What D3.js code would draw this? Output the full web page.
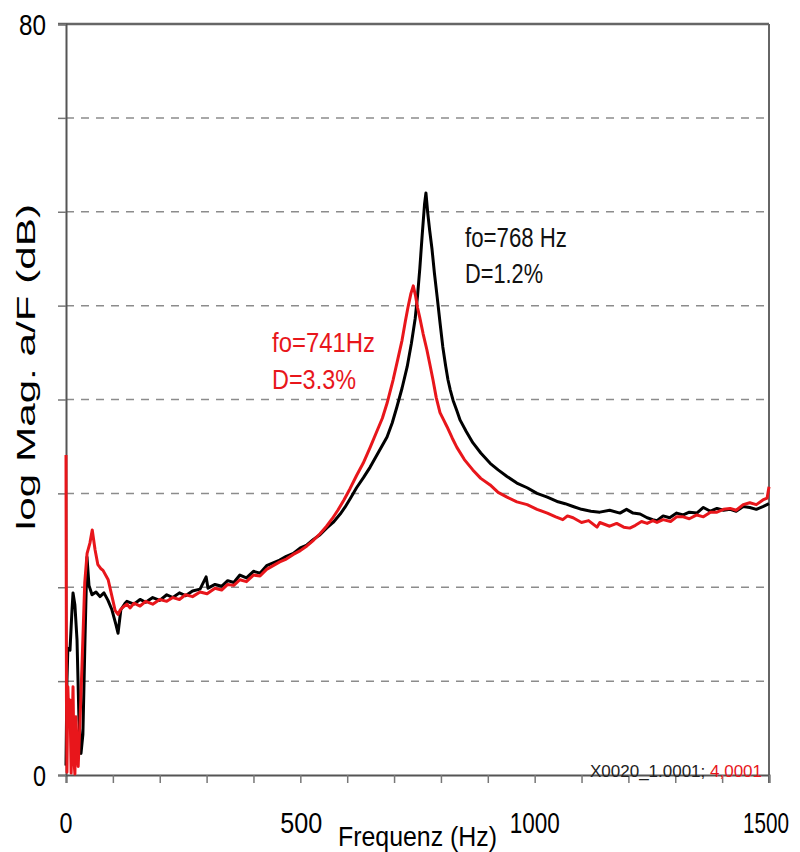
<!DOCTYPE html>
<html>
  <head>
    <meta charset="utf-8" />
    <title>Frequenzgang</title>
    <script src="https://d3js.org/d3.v7.min.js"></script>
    <style>
        body {
            margin: 0;
            background: #fff;
        }
        text {
            font-family: "Liberation Sans", Arial, sans-serif;
        }
    </style>
  </head>
  <body>
    <svg id="chart"></svg>

    <script>
        // black trace: X0020_1.0001 (fo=768 Hz)
        var freqBlack = [0, 2, 4, 8.5, 12.8, 15, 19, 23.5, 27.7, 32, 36, 40.5, 44.8, 49, 55.5, 64, 72.5, 81, 89.6, 98, 106.7, 111, 117, 126,
            130, 145, 158, 170, 185, 200, 215, 228, 242, 255, 270, 286, 299, 303, 318, 332, 345, 358, 371, 385, 400, 414, 428, 442, 456, 470,
            485, 500, 514, 528, 542, 556, 570, 585, 595, 606, 620, 635, 649, 667, 685, 696, 706, 717, 728, 737, 745, 750, 755, 760, 765, 768,
            772, 776, 781, 786, 792, 798, 804, 810, 815, 820, 826, 834, 841, 854, 868, 885, 905, 922, 941, 962, 984, 1005, 1027, 1050, 1065,
            1082, 1100, 1120, 1139, 1160, 1182, 1196, 1210, 1225, 1240, 1252, 1261, 1274, 1288, 1303, 1317, 1330, 1346, 1360, 1375, 1389,
            1403, 1417, 1430, 1445, 1459, 1473, 1487, 1500];
        var dbBlack = [1.0, 10, 13.5, 13.3, 17.6, 19.4, 18.1, 14.4, 5.9, 2.3, 4.3, 14.4, 23.2, 20.2, 19.2, 19.5, 19.0, 19.4, 18.6, 17.6, 16.0, 15.1, 17.6, 18.3,
            18.5, 18.2, 18.7, 18.4, 18.9, 18.6, 19.2, 18.9, 19.4, 19.1, 19.6, 19.8, 21.1, 19.9, 20.3, 20.1, 20.7, 20.5, 21.3, 21.0, 21.7, 21.5, 22.3, 22.6, 22.9, 23.3,
            23.6, 24.2, 24.5, 25.1, 25.6, 26.3, 26.9, 27.8, 28.5, 29.4, 30.6, 31.7, 32.8, 34.4, 36.0, 37.5, 39.2, 41.2, 43.5, 46.0, 48.6, 51.0, 54.0, 57.5, 60.8, 62.0,
            59.8, 58.0, 56.0, 53.5, 50.9, 48.2, 45.6, 43.6, 42.1, 41.0, 39.9, 38.8, 37.8, 36.6, 35.4, 34.3, 33.2, 32.5, 31.8, 31.1, 30.6, 30.0, 29.6, 29.1, 28.9,
            28.6, 28.3, 28.1, 28.0, 28.2, 27.9, 28.3, 27.9, 27.8, 27.4, 27.2, 27.1, 27.6, 27.4, 27.9, 27.7, 28.0, 27.9, 28.5, 28.1, 28.4,
            28.2, 28.3, 28.1, 28.6, 28.5, 28.3, 28.6, 28.9];

        // red trace: 4,0001 (fo=741 Hz)
        var freqRed = [0, 1, 2, 4, 6, 8.5, 11, 15, 17, 19, 21, 26, 30, 34, 40, 45, 51, 56, 62, 68, 74, 79, 90, 100, 105, 111, 116, 122,
            130, 137, 145, 158, 170, 185, 200, 215, 228, 242, 255, 270, 286, 301, 318, 332, 345, 358, 371, 385, 400, 414, 428, 442, 456, 470,
            485, 500, 514, 528, 542, 556, 568, 580, 593, 606, 620, 634, 649, 664, 675, 685, 698, 708, 717, 724, 730, 736, 741, 746, 750, 755,
            762, 770, 777, 783, 790, 798, 806, 813, 824, 834, 850, 868, 885, 905, 922, 941, 962, 984, 1005, 1027, 1045, 1060, 1070, 1082,
            1100, 1115, 1133, 1139, 1160, 1175, 1190, 1203, 1215, 1228, 1240, 1252, 1261, 1274, 1290, 1303, 1317, 1330, 1346, 1360, 1375,
            1389, 1403, 1417, 1430, 1445, 1459, 1473, 1487, 1496, 1500];
        var dbRed = [34.1, 8.0, 0.3, 9.4, 5.9, 8.0, 0.2, 9.4, 1.6, 0.1, 6.2, 0.9, 5.9, 11.5, 20.5, 23.6, 24.7, 26.1, 24.0, 22.4, 22.0, 21.8, 20.8, 18.6, 17.5, 17.1, 17.6, 17.9,
            18.2, 17.8, 18.3, 18.0, 18.5, 18.2, 18.7, 18.5, 18.9, 18.7, 19.2, 19.0, 19.5, 19.3, 19.9, 19.7, 20.3, 20.2, 20.8, 20.6, 21.3, 21.2, 21.9, 22.3, 22.7, 23.0,
            23.5, 23.9, 24.4, 25.0, 25.7, 26.5, 27.3, 28.2, 29.3, 30.5, 31.9, 33.2, 34.9, 36.7, 38.0, 39.6, 42.1, 44.3, 46.3, 48.3, 49.9, 51.3, 52.1, 51.0, 49.8, 48.7,
            47.0, 45.3, 43.6, 42.1, 40.2, 38.6, 37.8, 37.1, 35.9, 34.9, 33.6, 32.5, 31.6, 30.9, 30.1, 29.6, 29.1, 28.8, 28.3, 27.9, 27.5, 27.2, 27.6, 27.4,
            26.9, 27.1, 26.4, 26.9, 26.5, 26.8, 26.4, 26.3, 26.6, 27.0, 26.8, 27.1, 26.9, 27.2, 27.0, 27.5, 27.5, 27.3, 27.7, 27.5, 28.0,
            28.0, 28.3, 28.4, 28.2, 28.8, 29.0, 28.8, 29.3, 29.5, 30.7];

        var xTickLabels = [0, 500, 1000, 1500];
        var yTickLabels = [0, 80];
        var gridValues = [10, 20, 30, 40, 50, 60, 70];

        var width = 800;
        var height = 852;
        var margin = {top: 24, right: 31, bottom: 77, left: 66};

        var svg = d3.select("#chart").attr("width", width).attr("height", height);

        var x = d3.scaleLinear()
            .domain([0, 1500])
            .range([margin.left, width - margin.right]);

        var y = d3.scaleLinear()
            .domain([0, 80])
            .range([height - margin.bottom, margin.top]);

        // dashed gridlines
        svg.append("g").selectAll("line")
            .data(gridValues)
            .enter().append("line")
            .attr("x1", x(0))
            .attr("x2", x(1500))
            .attr("y1", function(d) { return y(d); })
            .attr("y2", function(d) { return y(d); })
            .attr("stroke", "#8c8c8c")
            .attr("stroke-width", 1.5)
            .attr("stroke-dasharray", "8,7");

        // frame top + right
        svg.append("line")
            .attr("x1", x(0) - 8).attr("x2", x(1500))
            .attr("y1", y(80)).attr("y2", y(80))
            .attr("stroke", "#666").attr("stroke-width", 2.5);
        svg.append("line")
            .attr("x1", x(1500)).attr("x2", x(1500))
            .attr("y1", y(80)).attr("y2", y(0) + 8)
            .attr("stroke", "#666").attr("stroke-width", 2);

        // axes
        var xAxis = svg.append("g")
            .attr("transform", "translate(0," + y(0) + ")")
            .call(d3.axisBottom(x).tickValues(d3.range(0, 1501, 100)).tickSize(8).tickFormat(""));
        var yAxis = svg.append("g")
            .attr("transform", "translate(" + x(0) + ",0)")
            .call(d3.axisLeft(y).tickValues(d3.range(0, 81, 10)).tickSize(8).tickFormat(""));
        [xAxis, yAxis].forEach(function(a) {
            a.select(".domain").attr("stroke", "#555").attr("stroke-width", 2);
            a.selectAll(".tick line").attr("stroke", "#777").attr("stroke-width", 1.5);
        });

        // traces
        var line = d3.line()
            .x(function(d) { return x(d[0]); })
            .y(function(d) { return y(d[1]); });

        var black = freqBlack.map(function(f, i) { return [f, dbBlack[i]]; });
        var red = freqRed.map(function(f, i) { return [f, dbRed[i]]; });

        svg.append("path")
            .datum(black)
            .attr("d", line)
            .attr("fill", "none")
            .attr("stroke", "#000")
            .attr("stroke-width", 3)
            .attr("stroke-linejoin", "round");

        svg.append("path")
            .datum(red)
            .attr("d", line)
            .attr("fill", "none")
            .attr("stroke", "#e8161b")
            .attr("stroke-width", 3)
            .attr("stroke-linejoin", "round");

        // tick labels
        var xLabelWidths = [13, 42, 50, 46];
        var xLabelShift = [0, 1, 0, -3];
        svg.append("g").selectAll("text")
            .data(xTickLabels)
            .enter().append("text")
            .attr("x", function(d, i) { return x(d) + xLabelShift[i]; })
            .attr("y", 833)
            .attr("text-anchor", "middle")
            .attr("font-size", 29)
            .attr("textLength", function(d, i) { return xLabelWidths[i]; })
            .attr("lengthAdjust", "spacingAndGlyphs")
            .text(function(d) { return d; });

        var yLabelWidths = [13, 27];
        svg.append("g").selectAll("text")
            .data(yTickLabels)
            .enter().append("text")
            .attr("x", 46)
            .attr("y", function(d) { return y(d) + 11; })
            .attr("text-anchor", "end")
            .attr("font-size", 30)
            .attr("textLength", function(d, i) { return yLabelWidths[i]; })
            .attr("lengthAdjust", "spacingAndGlyphs")
            .text(function(d) { return d; });

        // axis titles
        svg.append("text")
            .attr("x", 338)
            .attr("y", 846)
            .attr("font-size", 27)
            .attr("textLength", 159)
            .attr("lengthAdjust", "spacingAndGlyphs")
            .text("Frequenz (Hz)");

        svg.append("text")
            .attr("transform", "translate(35,367) rotate(-90)")
            .attr("text-anchor", "middle")
            .attr("font-size", 25)
            .attr("textLength", 326)
            .attr("lengthAdjust", "spacingAndGlyphs")
            .text("log Mag. a/F (dB)");

        // annotations
        function note(tx, ty, w, col, s) {
            svg.append("text")
                .attr("x", tx).attr("y", ty)
                .attr("font-size", 27)
                .attr("fill", col)
                .attr("textLength", w)
                .attr("lengthAdjust", "spacingAndGlyphs")
                .text(s);
        }
        note(465, 247, 102, "#111", "fo=768 Hz");
        note(465, 283, 78, "#111", "D=1.2%");
        note(272, 352, 103, "#e8161b", "fo=741Hz");
        note(272, 389, 84, "#e8161b", "D=3.3%");

        // file name tag
        var tag = svg.append("text")
            .attr("x", 590).attr("y", 777)
            .attr("font-size", 16)
            .attr("textLength", 172)
            .attr("lengthAdjust", "spacingAndGlyphs");
        tag.append("tspan").attr("fill", "#222").text("X0020_1.0001; ");
        tag.append("tspan").attr("fill", "#e8161b").text("4,0001");
    </script>
  </body>
</html>
